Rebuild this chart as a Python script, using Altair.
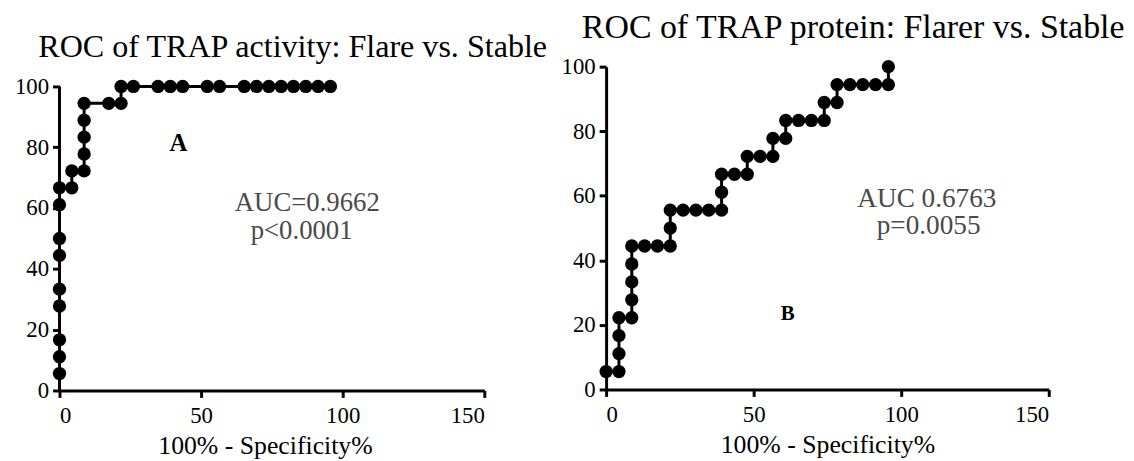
import altair as alt
import pandas as pd

# ---- data ----
fpr_a = [0, 0, 0, 0, 0, 0, 0, 0, 0,
         4.35, 4.35,
         8.70, 8.70, 8.70, 8.70, 8.70,
         17.39, 21.74, 21.74,
         26.09, 34.78, 39.13, 43.48, 52.17, 56.52, 65.22, 69.57,
         73.91, 78.26, 82.61, 86.96, 91.30, 95.65]
tpr_a = [5.56, 11.11, 16.67, 27.78, 33.33, 44.44, 50.00, 61.11, 66.67,
         66.67, 72.22,
         72.22, 77.78, 83.33, 88.89, 94.44,
         94.44, 94.44, 100,
         100, 100, 100, 100, 100, 100, 100, 100,
         100, 100, 100, 100, 100, 100]

fpr_b = [0,
         4.35, 4.35, 4.35, 4.35,
         8.70, 8.70, 8.70, 8.70, 8.70,
         13.04, 17.39,
         21.74, 21.74, 21.74,
         26.09, 30.43, 34.78,
         39.13, 39.13, 39.13,
         43.48, 47.83, 47.83,
         52.17, 56.52, 56.52,
         60.87, 60.87,
         65.22, 69.57, 73.91, 73.91,
         78.26, 78.26,
         82.61, 86.96, 91.30, 95.65, 95.65]
tpr_b = [5.56,
         5.56, 11.11, 16.67, 22.22,
         22.22, 27.78, 33.33, 38.89, 44.44,
         44.44, 44.44,
         44.44, 50.00, 55.56,
         55.56, 55.56, 55.56,
         55.56, 61.11, 66.67,
         66.67, 66.67, 72.22,
         72.22, 72.22, 77.78,
         77.78, 83.33,
         83.33, 83.33, 83.33, 88.89,
         88.89, 94.44,
         94.44, 94.44, 94.44, 94.44, 100]

title_a = "ROC of TRAP activity: Flare vs. Stable"
title_b = "ROC of TRAP protein: Flarer vs. Stable"
x_title = "100% - Specificity%"
x_ticks = [0, 50, 100, 150]
y_ticks = [0, 20, 40, 60, 80, 100]

letter_a = ["A"]
letter_a_pos = [(42, 81.5)]
stats_a = ["AUC=0.9662", "p<0.0001"]
stats_a_pos = [(87.5, 61.7), (85.5, 52.3)]

letter_b = ["B"]
letter_b_pos = [(61.5, 23.3)]
stats_b = ["AUC 0.6763", "p=0.0055"]
stats_b_pos = [(108.7, 59.0), (109.3, 50.5)]

FONT = "Liberation Serif"

AXIS_STYLE = dict(
    grid=False,
    domainColor="black", domainWidth=3,
    tickColor="black", tickWidth=3, tickSize=7,
    labelFont=FONT, labelFontSize=23, labelColor="black",
    titleFont=FONT, titleFontSize=26, titleFontWeight="normal", titleColor="black",
)


def panel(fpr, tpr, width, height, ymax, title, tsize, toffset, tdx, xtitle_shift,
          letters, letters_pos, lsize, stats, stats_pos, ssize, own_axis_line):
    df = pd.DataFrame({"x": fpr, "y": tpr, "i": list(range(len(fpr)))})
    xs = alt.Scale(domain=[0, 150], nice=False)
    ys = alt.Scale(domain=[0, ymax], nice=False)
    xax = alt.Axis(values=x_ticks, title=x_title, labelPadding=7, titlePadding=6,
                   titleX=width / 2 + xtitle_shift, **AXIS_STYLE)
    yax = alt.Axis(values=y_ticks, title=None, domain=not own_axis_line,
                   labelPadding=4, **AXIS_STYLE)

    base = alt.Chart(df)
    line = base.mark_line(color="black", strokeWidth=3).encode(
        x=alt.X("x:Q", scale=xs, axis=xax),
        y=alt.Y("y:Q", scale=ys, axis=yax),
        order="i:Q",
    )
    pts = base.mark_circle(size=180, color="black", opacity=1).encode(
        x="x:Q", y="y:Q"
    )
    layers = []
    if own_axis_line:
        rdf = pd.DataFrame({"x": [0], "y0": [0], "y1": [100]})
        layers.append(
            alt.Chart(rdf).mark_rule(color="black", strokeWidth=3).encode(
                x="x:Q", y="y0:Q", y2="y1:Q"
            )
        )
    ldf = pd.DataFrame({"t": letters,
                        "x": [p[0] for p in letters_pos],
                        "y": [p[1] for p in letters_pos]})
    sdf = pd.DataFrame({"t": stats,
                        "x": [p[0] for p in stats_pos],
                        "y": [p[1] for p in stats_pos]})
    lt = alt.Chart(ldf).mark_text(font=FONT, fontSize=lsize, fontWeight="bold",
                                  color="black", baseline="middle").encode(
        x="x:Q", y="y:Q", text="t:N")
    st = alt.Chart(sdf).mark_text(font=FONT, fontSize=ssize, color="#4a4a4a",
                                  baseline="middle").encode(
        x="x:Q", y="y:Q", text="t:N")
    return alt.layer(line, pts, *layers, lt, st).properties(
        width=width, height=height,
        title=alt.TitleParams(title, font=FONT, fontSize=tsize, fontWeight="normal",
                              color="black", anchor="middle", offset=toffset, dx=tdx,
                              baseline="alphabetic"),
    )


left = panel(fpr_a, tpr_a, 429, 327, 100 * 327 / 307, title_a, 32.4, -23, 21, -7,
             letter_a, letter_a_pos, 25, stats_a, stats_a_pos, 27, True)
right = panel(fpr_b, tpr_b, 447, 326, 100, title_b, 34.2, -16, 26, 0,
              letter_b, letter_b_pos, 21, stats_b, stats_b_pos, 27.5, False)

chart = alt.hconcat(left, right, spacing=123, bounds="flush").properties(
    padding={"left": 6, "top": 0, "right": 0, "bottom": 0}
).configure(font=FONT).configure_view(stroke=None).configure_axis(**AXIS_STYLE)

chart.save("out.html", embed_options={"renderer": "svg", "actions": False})
